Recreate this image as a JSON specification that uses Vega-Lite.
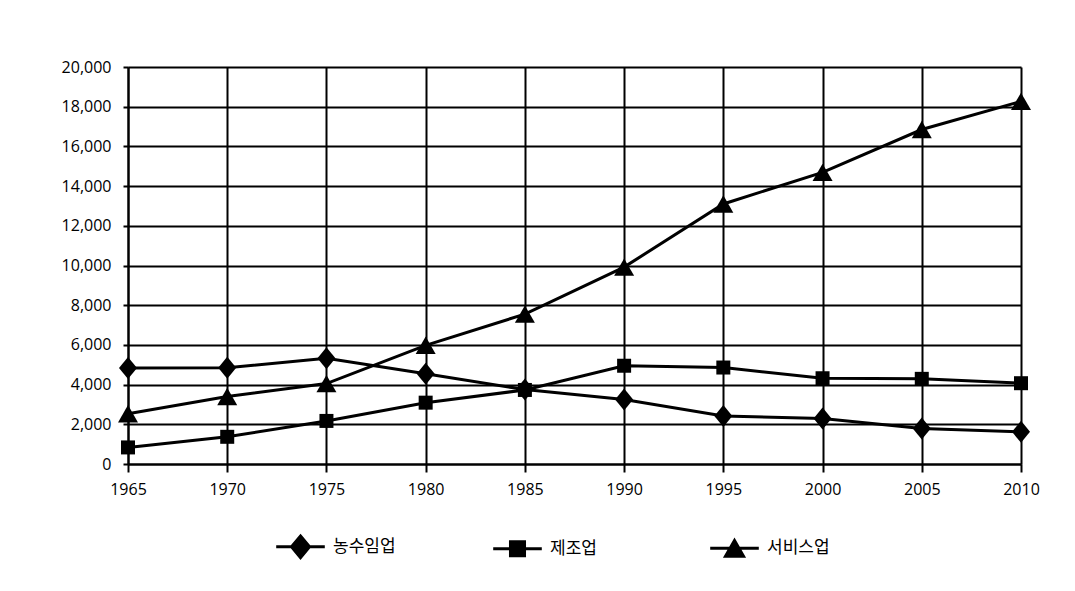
{
  "$schema": "https://vega.github.io/schema/vega-lite/v6.json",
  "width": 893,
  "height": 397,
  "autosize": {"type": "none"},
  "padding": {"left": 128, "top": 67, "right": 54, "bottom": 127},
  "background": "white",
  "config": {
    "view": {"stroke": null},
    "axis": {
      "title": null,
      "grid": true,
      "gridColor": "black",
      "gridWidth": 2,
      "gridOpacity": 1,
      "domainColor": "black",
      "domainWidth": 2,
      "tickColor": "black",
      "tickWidth": 2,
      "labelFont": "Open Sans",
      "labelFontSize": 16,
      "labelColor": "black",
      "labelFlush": false
    }
  },
  "data": {
    "values": [
      {"year": 1965, "series": "농수임업", "value": 4830},
      {"year": 1970, "series": "농수임업", "value": 4850},
      {"year": 1975, "series": "농수임업", "value": 5330},
      {"year": 1980, "series": "농수임업", "value": 4550},
      {"year": 1985, "series": "농수임업", "value": 3750},
      {"year": 1990, "series": "농수임업", "value": 3250},
      {"year": 1995, "series": "농수임업", "value": 2420},
      {"year": 2000, "series": "농수임업", "value": 2290},
      {"year": 2005, "series": "농수임업", "value": 1790},
      {"year": 2010, "series": "농수임업", "value": 1620},
      {"year": 1965, "series": "제조업", "value": 835},
      {"year": 1970, "series": "제조업", "value": 1370},
      {"year": 1975, "series": "제조업", "value": 2170},
      {"year": 1980, "series": "제조업", "value": 3090},
      {"year": 1985, "series": "제조업", "value": 3730},
      {"year": 1990, "series": "제조업", "value": 4950},
      {"year": 1995, "series": "제조업", "value": 4860},
      {"year": 2000, "series": "제조업", "value": 4320},
      {"year": 2005, "series": "제조업", "value": 4290},
      {"year": 2010, "series": "제조업", "value": 4070},
      {"year": 1965, "series": "서비스업", "value": 2530},
      {"year": 1970, "series": "서비스업", "value": 3400},
      {"year": 1975, "series": "서비스업", "value": 4050},
      {"year": 1980, "series": "서비스업", "value": 5980},
      {"year": 1985, "series": "서비스업", "value": 7550},
      {"year": 1990, "series": "서비스업", "value": 9920},
      {"year": 1995, "series": "서비스업", "value": 13100},
      {"year": 2000, "series": "서비스업", "value": 14690},
      {"year": 2005, "series": "서비스업", "value": 16850},
      {"year": 2010, "series": "서비스업", "value": 18270}
    ]
  },
  "encoding": {
    "x": {
      "field": "year",
      "type": "quantitative",
      "scale": {"domain": [1965, 2010], "nice": false, "zero": false},
      "axis": {
        "values": [1965, 1970, 1975, 1980, 1985, 1990, 1995, 2000, 2005, 2010],
        "format": "d",
        "tickSize": 8,
        "labelPadding": 9
      }
    },
    "y": {
      "field": "value",
      "type": "quantitative",
      "scale": {"domain": [0, 20000], "nice": false},
      "axis": {
        "values": [0, 2000, 4000, 6000, 8000, 10000, 12000, 14000, 16000, 18000, 20000],
        "format": ",d",
        "tickSize": 5,
        "labelPadding": 12
      }
    }
  },
  "layer": [
    {
      "mark": {"type": "line", "color": "black", "strokeWidth": 3},
      "encoding": {"detail": {"field": "series", "type": "nominal"}}
    },
    {
      "mark": {"type": "point", "filled": true, "opacity": 1, "size": 400},
      "encoding": {
        "shape": {
          "field": "series",
          "type": "nominal",
          "scale": {
            "domain": ["서비스업", "농수임업", "제조업"],
            "range": ["M0,-0.87L1,0.87L-1,0.87Z", "M0,-1.1L0.9,0L0,1.1L-0.9,0Z", "M-0.7,-0.7L0.7,-0.7L0.7,0.7L-0.7,0.7Z"]
          },
          "legend": null
        },
        "color": {
          "field": "series",
          "type": "nominal",
          "scale": {
            "domain": ["농수임업", "제조업", "서비스업"],
            "range": ["black", "black", "black"]
          },
          "legend": {
            "orient": "none",
            "legendX": 162,
            "legendY": 469,
            "direction": "horizontal",
            "gridAlign": "all",
            "columnPadding": 91,
            "title": null,
            "padding": 0,
            "symbolSize": 324,
            "symbolType": {"expr": "datum.value === '농수임업' ? 'M-2.7,0L2.7,0M0,-1.2L1,0L0,1.2L-1,0Z' : datum.value === '제조업' ? 'M-2.7,0L2.7,0M-0.78,-0.78L0.78,-0.78L0.78,0.78L-0.78,0.78Z' : 'M-2.7,0L2.7,0M0,-0.87L1,0.87L-1,0.87Z'"},
            "symbolStrokeWidth": 3,
            "symbolStrokeColor": "black",
            "symbolFillColor": "black",
            "labelOffset": 22,
            "labelFont": "Noto Sans CJK KR",
            "labelFontSize": 17,
            "labelColor": "black",
            "encode": {
              "symbols": {
                "stroke": {"value": "black"},
                "strokeWidth": {"value": 3},
                "opacity": {"value": 1}
              }
            }
          }
        }
      }
    }
  ]
}
